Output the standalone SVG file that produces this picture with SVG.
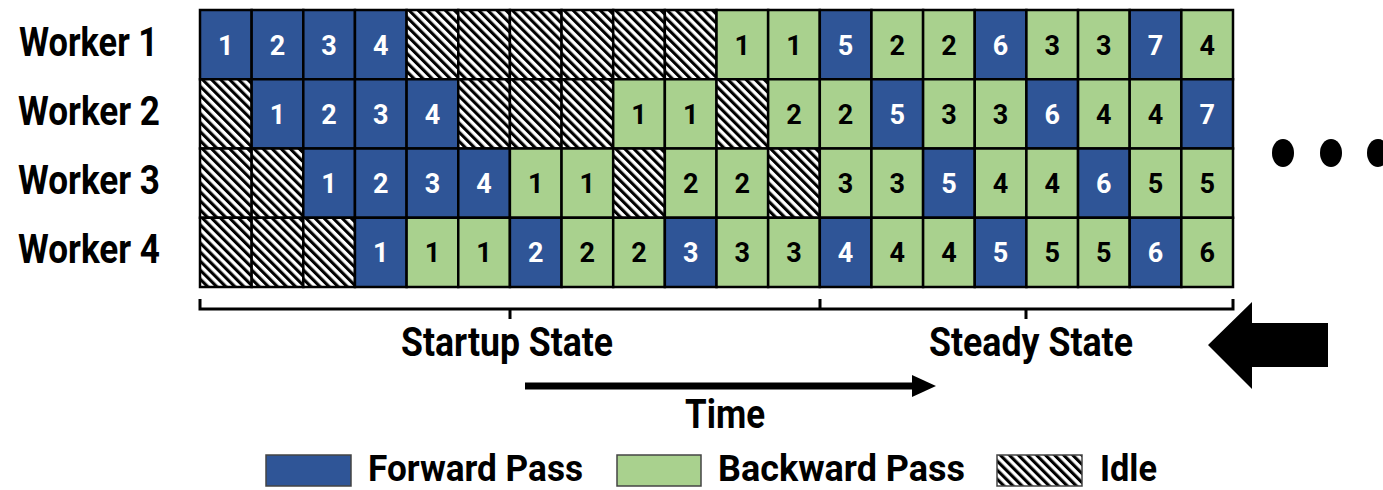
<svg xmlns="http://www.w3.org/2000/svg" width="1383" height="490" viewBox="0 0 1383 490">
<style>
.f{fill:#2F5597;stroke:#000;stroke-width:2.5}
.b{fill:#A9D18E;stroke:#000;stroke-width:2.5}
.i{fill:url(#hatch);stroke:#000;stroke-width:2.5}
.tw{font-family:Roboto,"Liberation Sans",sans-serif;font-weight:700;font-size:27px;fill:#fff;text-anchor:middle}
.tk{font-family:Roboto,"Liberation Sans",sans-serif;font-weight:700;font-size:27px;fill:#000;text-anchor:middle}
.lbl{font-family:Roboto,"Liberation Sans",sans-serif;font-weight:700;font-size:40px;fill:#000}
.leg{font-family:Roboto,"Liberation Sans",sans-serif;font-weight:700;font-size:37px;fill:#000}
.line{fill:none;stroke:#000;stroke-width:3}
</style>
<defs>
<pattern id="hatch" width="6.4" height="6.4" patternUnits="userSpaceOnUse" patternTransform="rotate(-45)">
<rect width="6.4" height="6.4" fill="#fff"/>
<rect width="3.1" height="6.4" fill="#000"/>
</pattern>
<symbol id="F" overflow="visible"><rect class="f" width="51.65" height="69.25"/></symbol>
<symbol id="B" overflow="visible"><rect class="b" width="51.65" height="69.25"/></symbol>
<symbol id="I" overflow="visible"><rect class="i" width="51.65" height="69.25"/></symbol>
</defs>
<rect width="1383" height="490" fill="#fff"/>

<g id="labels">
<text class="lbl" x="19" y="56" textLength="139" lengthAdjust="spacingAndGlyphs">Worker 1</text>
<text class="lbl" x="18" y="125" textLength="142" lengthAdjust="spacingAndGlyphs">Worker 2</text>
<text class="lbl" x="18" y="194" textLength="142" lengthAdjust="spacingAndGlyphs">Worker 3</text>
<text class="lbl" x="18" y="263" textLength="142" lengthAdjust="spacingAndGlyphs">Worker 4</text>
</g>

<g id="worker1">
<g id="w1c0" transform="translate(200,10)"><use href="#F"/><text class="tw" x="25.8" y="44.6">1</text></g>
<g id="w1c1" transform="translate(251.65,10)"><use href="#F"/><text class="tw" x="25.8" y="44.6">2</text></g>
<g id="w1c2" transform="translate(303.3,10)"><use href="#F"/><text class="tw" x="25.8" y="44.6">3</text></g>
<g id="w1c3" transform="translate(354.95,10)"><use href="#F"/><text class="tw" x="25.8" y="44.6">4</text></g>
<g id="w1c4" transform="translate(406.6,10)"><use href="#I"/></g>
<g id="w1c5" transform="translate(458.25,10)"><use href="#I"/></g>
<g id="w1c6" transform="translate(509.9,10)"><use href="#I"/></g>
<g id="w1c7" transform="translate(561.55,10)"><use href="#I"/></g>
<g id="w1c8" transform="translate(613.2,10)"><use href="#I"/></g>
<g id="w1c9" transform="translate(664.85,10)"><use href="#I"/></g>
<g id="w1c10" transform="translate(716.5,10)"><use href="#B"/><text class="tk" x="25.8" y="44.6">1</text></g>
<g id="w1c11" transform="translate(768.15,10)"><use href="#B"/><text class="tk" x="25.8" y="44.6">1</text></g>
<g id="w1c12" transform="translate(819.8,10)"><use href="#F"/><text class="tw" x="25.8" y="44.6">5</text></g>
<g id="w1c13" transform="translate(871.45,10)"><use href="#B"/><text class="tk" x="25.8" y="44.6">2</text></g>
<g id="w1c14" transform="translate(923.1,10)"><use href="#B"/><text class="tk" x="25.8" y="44.6">2</text></g>
<g id="w1c15" transform="translate(974.75,10)"><use href="#F"/><text class="tw" x="25.8" y="44.6">6</text></g>
<g id="w1c16" transform="translate(1026.4,10)"><use href="#B"/><text class="tk" x="25.8" y="44.6">3</text></g>
<g id="w1c17" transform="translate(1078.05,10)"><use href="#B"/><text class="tk" x="25.8" y="44.6">3</text></g>
<g id="w1c18" transform="translate(1129.7,10)"><use href="#F"/><text class="tw" x="25.8" y="44.6">7</text></g>
<g id="w1c19" transform="translate(1181.35,10)"><use href="#B"/><text class="tk" x="25.8" y="44.6">4</text></g>
</g>

<g id="worker2">
<g id="w2c0" transform="translate(200,79.25)"><use href="#I"/></g>
<g id="w2c1" transform="translate(251.65,79.25)"><use href="#F"/><text class="tw" x="25.8" y="44.6">1</text></g>
<g id="w2c2" transform="translate(303.3,79.25)"><use href="#F"/><text class="tw" x="25.8" y="44.6">2</text></g>
<g id="w2c3" transform="translate(354.95,79.25)"><use href="#F"/><text class="tw" x="25.8" y="44.6">3</text></g>
<g id="w2c4" transform="translate(406.6,79.25)"><use href="#F"/><text class="tw" x="25.8" y="44.6">4</text></g>
<g id="w2c5" transform="translate(458.25,79.25)"><use href="#I"/></g>
<g id="w2c6" transform="translate(509.9,79.25)"><use href="#I"/></g>
<g id="w2c7" transform="translate(561.55,79.25)"><use href="#I"/></g>
<g id="w2c8" transform="translate(613.2,79.25)"><use href="#B"/><text class="tk" x="25.8" y="44.6">1</text></g>
<g id="w2c9" transform="translate(664.85,79.25)"><use href="#B"/><text class="tk" x="25.8" y="44.6">1</text></g>
<g id="w2c10" transform="translate(716.5,79.25)"><use href="#I"/></g>
<g id="w2c11" transform="translate(768.15,79.25)"><use href="#B"/><text class="tk" x="25.8" y="44.6">2</text></g>
<g id="w2c12" transform="translate(819.8,79.25)"><use href="#B"/><text class="tk" x="25.8" y="44.6">2</text></g>
<g id="w2c13" transform="translate(871.45,79.25)"><use href="#F"/><text class="tw" x="25.8" y="44.6">5</text></g>
<g id="w2c14" transform="translate(923.1,79.25)"><use href="#B"/><text class="tk" x="25.8" y="44.6">3</text></g>
<g id="w2c15" transform="translate(974.75,79.25)"><use href="#B"/><text class="tk" x="25.8" y="44.6">3</text></g>
<g id="w2c16" transform="translate(1026.4,79.25)"><use href="#F"/><text class="tw" x="25.8" y="44.6">6</text></g>
<g id="w2c17" transform="translate(1078.05,79.25)"><use href="#B"/><text class="tk" x="25.8" y="44.6">4</text></g>
<g id="w2c18" transform="translate(1129.7,79.25)"><use href="#B"/><text class="tk" x="25.8" y="44.6">4</text></g>
<g id="w2c19" transform="translate(1181.35,79.25)"><use href="#F"/><text class="tw" x="25.8" y="44.6">7</text></g>
</g>

<g id="worker3">
<g id="w3c0" transform="translate(200,148.5)"><use href="#I"/></g>
<g id="w3c1" transform="translate(251.65,148.5)"><use href="#I"/></g>
<g id="w3c2" transform="translate(303.3,148.5)"><use href="#F"/><text class="tw" x="25.8" y="44.6">1</text></g>
<g id="w3c3" transform="translate(354.95,148.5)"><use href="#F"/><text class="tw" x="25.8" y="44.6">2</text></g>
<g id="w3c4" transform="translate(406.6,148.5)"><use href="#F"/><text class="tw" x="25.8" y="44.6">3</text></g>
<g id="w3c5" transform="translate(458.25,148.5)"><use href="#F"/><text class="tw" x="25.8" y="44.6">4</text></g>
<g id="w3c6" transform="translate(509.9,148.5)"><use href="#B"/><text class="tk" x="25.8" y="44.6">1</text></g>
<g id="w3c7" transform="translate(561.55,148.5)"><use href="#B"/><text class="tk" x="25.8" y="44.6">1</text></g>
<g id="w3c8" transform="translate(613.2,148.5)"><use href="#I"/></g>
<g id="w3c9" transform="translate(664.85,148.5)"><use href="#B"/><text class="tk" x="25.8" y="44.6">2</text></g>
<g id="w3c10" transform="translate(716.5,148.5)"><use href="#B"/><text class="tk" x="25.8" y="44.6">2</text></g>
<g id="w3c11" transform="translate(768.15,148.5)"><use href="#I"/></g>
<g id="w3c12" transform="translate(819.8,148.5)"><use href="#B"/><text class="tk" x="25.8" y="44.6">3</text></g>
<g id="w3c13" transform="translate(871.45,148.5)"><use href="#B"/><text class="tk" x="25.8" y="44.6">3</text></g>
<g id="w3c14" transform="translate(923.1,148.5)"><use href="#F"/><text class="tw" x="25.8" y="44.6">5</text></g>
<g id="w3c15" transform="translate(974.75,148.5)"><use href="#B"/><text class="tk" x="25.8" y="44.6">4</text></g>
<g id="w3c16" transform="translate(1026.4,148.5)"><use href="#B"/><text class="tk" x="25.8" y="44.6">4</text></g>
<g id="w3c17" transform="translate(1078.05,148.5)"><use href="#F"/><text class="tw" x="25.8" y="44.6">6</text></g>
<g id="w3c18" transform="translate(1129.7,148.5)"><use href="#B"/><text class="tk" x="25.8" y="44.6">5</text></g>
<g id="w3c19" transform="translate(1181.35,148.5)"><use href="#B"/><text class="tk" x="25.8" y="44.6">5</text></g>
</g>

<g id="worker4">
<g id="w4c0" transform="translate(200,217.75)"><use href="#I"/></g>
<g id="w4c1" transform="translate(251.65,217.75)"><use href="#I"/></g>
<g id="w4c2" transform="translate(303.3,217.75)"><use href="#I"/></g>
<g id="w4c3" transform="translate(354.95,217.75)"><use href="#F"/><text class="tw" x="25.8" y="44.6">1</text></g>
<g id="w4c4" transform="translate(406.6,217.75)"><use href="#B"/><text class="tk" x="25.8" y="44.6">1</text></g>
<g id="w4c5" transform="translate(458.25,217.75)"><use href="#B"/><text class="tk" x="25.8" y="44.6">1</text></g>
<g id="w4c6" transform="translate(509.9,217.75)"><use href="#F"/><text class="tw" x="25.8" y="44.6">2</text></g>
<g id="w4c7" transform="translate(561.55,217.75)"><use href="#B"/><text class="tk" x="25.8" y="44.6">2</text></g>
<g id="w4c8" transform="translate(613.2,217.75)"><use href="#B"/><text class="tk" x="25.8" y="44.6">2</text></g>
<g id="w4c9" transform="translate(664.85,217.75)"><use href="#F"/><text class="tw" x="25.8" y="44.6">3</text></g>
<g id="w4c10" transform="translate(716.5,217.75)"><use href="#B"/><text class="tk" x="25.8" y="44.6">3</text></g>
<g id="w4c11" transform="translate(768.15,217.75)"><use href="#B"/><text class="tk" x="25.8" y="44.6">3</text></g>
<g id="w4c12" transform="translate(819.8,217.75)"><use href="#F"/><text class="tw" x="25.8" y="44.6">4</text></g>
<g id="w4c13" transform="translate(871.45,217.75)"><use href="#B"/><text class="tk" x="25.8" y="44.6">4</text></g>
<g id="w4c14" transform="translate(923.1,217.75)"><use href="#B"/><text class="tk" x="25.8" y="44.6">4</text></g>
<g id="w4c15" transform="translate(974.75,217.75)"><use href="#F"/><text class="tw" x="25.8" y="44.6">5</text></g>
<g id="w4c16" transform="translate(1026.4,217.75)"><use href="#B"/><text class="tk" x="25.8" y="44.6">5</text></g>
<g id="w4c17" transform="translate(1078.05,217.75)"><use href="#B"/><text class="tk" x="25.8" y="44.6">5</text></g>
<g id="w4c18" transform="translate(1129.7,217.75)"><use href="#F"/><text class="tw" x="25.8" y="44.6">6</text></g>
<g id="w4c19" transform="translate(1181.35,217.75)"><use href="#B"/><text class="tk" x="25.8" y="44.6">6</text></g>
</g>

<g id="connectors">
<path class="line" d="M200,299 V309 H1233 V299 M820,299 V309 M510,309 V319 M1026,309 V319"/>
<line x1="525" y1="386" x2="914" y2="386" stroke="#000" stroke-width="7"/>
<polygon points="912,375 936,386 912,397" fill="#000"/>
<polygon points="1208,345 1252,302 1252,323 1328,323 1328,367 1252,367 1252,389" fill="#000"/>
</g>

<g id="states">
<text class="lbl" x="401" y="356" textLength="212" lengthAdjust="spacingAndGlyphs">Startup State</text>
<text class="lbl" x="929" y="356" textLength="204" lengthAdjust="spacingAndGlyphs">Steady State</text>
<text class="lbl" x="685" y="428" textLength="80" lengthAdjust="spacingAndGlyphs">Time</text>
</g>

<g id="ellipsis" fill="#000">
<ellipse cx="1283" cy="153" rx="11" ry="14"/>
<ellipse cx="1331" cy="153" rx="11" ry="14"/>
<ellipse cx="1378" cy="153" rx="11" ry="14"/>
</g>

<g id="legend">
<rect x="266" y="455" width="85" height="31" fill="#2F5597" stroke="#444" stroke-width="1.5"/>
<text class="leg" x="368" y="481" textLength="215" lengthAdjust="spacingAndGlyphs">Forward Pass</text>
<rect x="617" y="455" width="84" height="31" fill="#A9D18E" stroke="#444" stroke-width="1.5"/>
<text class="leg" x="718" y="481" textLength="247" lengthAdjust="spacingAndGlyphs">Backward Pass</text>
<rect x="997" y="455" width="85" height="31" fill="url(#hatch)" stroke="#444" stroke-width="1.5"/>
<text class="leg" x="1100" y="481" textLength="57" lengthAdjust="spacingAndGlyphs">Idle</text>
</g>
</svg>
